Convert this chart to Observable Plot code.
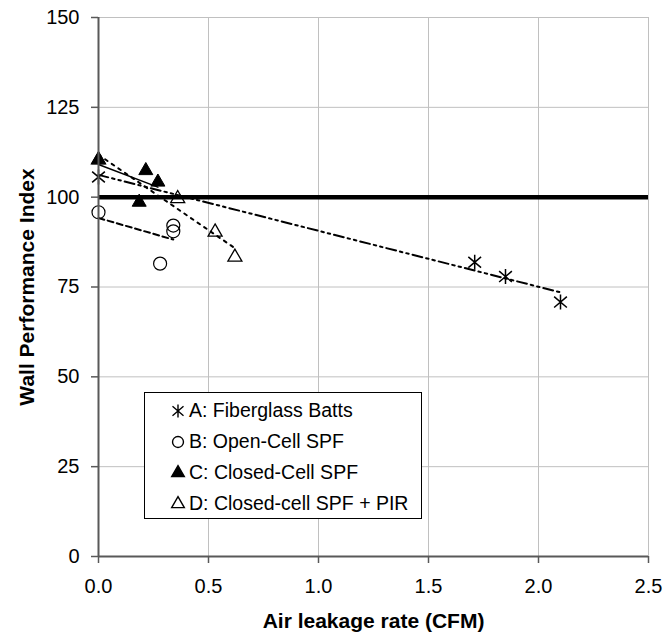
<!DOCTYPE html>
<html>
<head>
<meta charset="utf-8">
<script src="https://cdn.jsdelivr.net/npm/d3@7"></script>
<script src="https://cdn.jsdelivr.net/npm/@observablehq/plot@0.6"></script>
<style>
  body { margin: 0; background: #fff; }
  #wrap { position: relative; width: 665px; height: 635px; font-family: "Liberation Sans", Arial, Helvetica, sans-serif; }
  #legend { position: absolute; left: 144px; top: 392px; width: 278px; height: 127px; box-sizing: border-box;
            border: 1.5px solid #000; background: #fff; }
  .row { position: absolute; left: 0; height: 31px; width: 100%; }
  .row svg { position: absolute; left: 24px; top: 7px; }
  .row span { position: absolute; left: 44px; top: 4px; font-size: 19.5px; line-height: 22px; color: #000; white-space: nowrap; }
</style>
</head>
<body>
<div id="wrap"><div id="legend"></div></div>
<script>
// ---- data ----
const xTicks = [0, 0.5, 1.0, 1.5, 2.0, 2.5];
const yTicks = [0, 25, 50, 75, 100, 125, 150];
const seriesNames = ["A: Fiberglass Batts", "B: Open-Cell SPF", "C: Closed-Cell SPF", "D: Closed-cell SPF + PIR"];

const aX = [0, 1.71, 1.85, 2.10];
const aY = [105.6, 81.9, 77.9, 70.8];
const bX = [0, 0.34, 0.34, 0.28];
const bY = [95.8, 92.1, 90.5, 81.5];
const cX = [0, 0.215, 0.27, 0.185];
const cY = [110.4, 107.4, 104.2, 98.6];
const dX = [0, 0.36, 0.53, 0.62];
const dY = [110.4, 99.6, 90.3, 83.3];

// trend-line end points
const aTrendX = [0, 2.10], aTrendY = [106.2, 73.5];
const bTrendX = [0, 0.34], bTrendY = [94.2, 88.2];
const cTrendX = [0, 0.27], cTrendY = [109.1, 102.8];
const dTrendX = [0, 0.62], dTrendY = [111.8, 85.8];

const refValue = 100;
const xLabel = "Air leakage rate (CFM)";
const yLabel = "Wall Performance Index";

// ---- build tables ----
const pts = (xs, ys) => xs.map((x, i) => ({x, y: ys[i]}));
const A = pts(aX, aY), B = pts(bX, bY), C = pts(cX, cY), D = pts(dX, dY);
const tA = pts(aTrendX, aTrendY), tB = pts(bTrendX, bTrendY), tC = pts(cTrendX, cTrendY), tD = pts(dTrendX, dTrendY);

// Excel-like asterisk: vertical bar + X
const asterisk = {
  draw(ctx, size) {
    const r = Math.sqrt(size / Math.PI);
    ctx.moveTo(0, -r); ctx.lineTo(0, r);
    ctx.moveTo(-0.85 * r, -0.72 * r); ctx.lineTo(0.85 * r, 0.72 * r);
    ctx.moveTo(0.85 * r, -0.72 * r); ctx.lineTo(-0.85 * r, 0.72 * r);
  }
};

const axisGray = "#595959";
const gridGray = "#c0c0c0";

const chart = Plot.plot({
  width: 665,
  height: 635,
  marginLeft: 98,
  marginRight: 17,
  marginTop: 17,
  marginBottom: 79,
  style: { fontFamily: "Liberation Sans, Arial, Helvetica, sans-serif", fontSize: "20px", color: "#000", background: "#fff", overflow: "visible" },
  x: { domain: [0, 2.5] },
  y: { domain: [0, 150] },
  marks: [
    Plot.gridX(xTicks.filter(d => d > 0), { stroke: gridGray, strokeOpacity: 1, strokeWidth: 1 }),
    Plot.gridY(yTicks.filter(d => d > 0), { stroke: gridGray, strokeOpacity: 1, strokeWidth: 1 }),
    Plot.ruleY([refValue], { stroke: "#000", strokeWidth: 4.5 }),
    Plot.line(tA, { x: "x", y: "y", stroke: "#000", strokeWidth: 2, strokeDasharray: "10,4,2.5,4,2.5,4" }),
    Plot.line(tB, { x: "x", y: "y", stroke: "#000", strokeWidth: 2, strokeDasharray: "6,3.5" }),
    Plot.line(tC, { x: "x", y: "y", stroke: "#000", strokeWidth: 1.5 }),
    Plot.line(tD, { x: "x", y: "y", stroke: "#000", strokeWidth: 2, strokeDasharray: "3,5" }),
    Plot.dot(A, { x: "x", y: "y", symbol: asterisk, r: 7.5, fill: "none", stroke: "#000", strokeWidth: 1.5 }),
    Plot.dot(B, { x: "x", y: "y", symbol: "circle", r: 6.5, fill: "none", stroke: "#000", strokeWidth: 1.2 }),
    Plot.dot(D, { x: "x", y: "y", symbol: "triangle", r: 5.2, fill: "none", stroke: "#000", strokeWidth: 1.3 }),
    Plot.dot(C, { x: "x", y: "y", symbol: "triangle", r: 5.2, fill: "#000", stroke: "#000", strokeWidth: 1 }),
    Plot.ruleX([0], { stroke: axisGray, strokeWidth: 2 }),
    Plot.ruleY([0], { stroke: axisGray, strokeWidth: 2 }),
    Plot.axisX(xTicks, { tickFormat: d3.format(".1f"), tickSize: 7, tickPadding: 15, label: null, stroke: axisGray, strokeWidth: 1.5 }),
    Plot.axisY(yTicks, { tickFormat: d3.format("d"), tickSize: 7, tickPadding: 12, label: null, stroke: axisGray, strokeWidth: 1.5 }),
    Plot.text([xLabel], { frameAnchor: "bottom", dy: 65, text: d => d, fontWeight: "bold", fontSize: 21, textAnchor: "middle", lineAnchor: "middle" }),
    Plot.text([yLabel], { frameAnchor: "left", dx: -71, rotate: -90, text: d => d, fontWeight: "bold", fontSize: 21, textAnchor: "middle", lineAnchor: "middle" })
  ]
});
document.getElementById("wrap").prepend(chart);

// ---- legend ----
const legendSymbols = [
  { sym: asterisk, size: Math.PI * 42, fill: "none", stroke: "#000" },
  { sym: d3.symbolCircle, size: Math.PI * 30, fill: "none", stroke: "#000" },
  { sym: d3.symbolTriangle, size: Math.PI * 22, fill: "#000", stroke: "#000" },
  { sym: d3.symbolTriangle, size: Math.PI * 22, fill: "none", stroke: "#000" }
];
const rowTops = [2, 33, 64, 95];
const legend = d3.select("#legend");
seriesNames.forEach((name, i) => {
  const row = legend.append("div").attr("class", "row").style("top", rowTops[i] + "px");
  const s = legendSymbols[i];
  const svg = row.append("svg").attr("width", 18).attr("height", 18).attr("viewBox", "-9 -9 18 18");
  svg.append("path").attr("d", d3.symbol(s.sym, s.size)()).attr("fill", s.fill).attr("stroke", s.stroke).attr("stroke-width", 1.4);
  row.append("span").text(name);
});
</script>
</body>
</html>
